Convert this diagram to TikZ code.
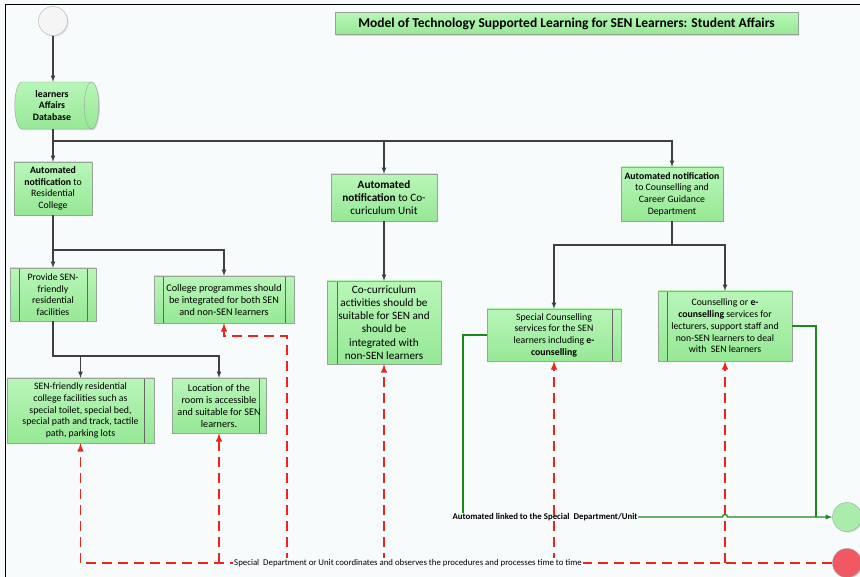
\documentclass[tikz,border=0pt]{standalone}
\usepackage{fontspec}
\setmainfont{Carlito}
\usetikzlibrary{shapes.geometric,shadows}

\definecolor{bgcol}{RGB}{248,251,252}
\definecolor{boxtop}{RGB}{184,246,184}
\definecolor{boxbot}{RGB}{150,232,150}
\definecolor{boxline}{RGB}{150,165,150}
\definecolor{connline}{RGB}{64,64,64}
\definecolor{redline}{RGB}{232,40,30}
\definecolor{greenline}{RGB}{30,135,30}
\definecolor{redfill}{RGB}{240,88,98}
\definecolor{greenfill}{RGB}{170,236,170}

\begin{document}
\begin{tikzpicture}[x=1pt,y=-1pt,>=latex,
  box/.style={draw=boxline,top color=boxtop,bottom color=boxbot,align=center,inner sep=1pt,
    drop shadow={shadow xshift=1.2pt,shadow yshift=-1.2pt,opacity=.3}},
  lbar/.style={path picture={\draw[connline!80,line width=.6pt]
    ([xshift=#1]path picture bounding box.north west) -- ([xshift=#1]path picture bounding box.south west);}},
  rbar/.style={path picture={\draw[connline!80,line width=.6pt]
    ([xshift=-#1]path picture bounding box.north east) -- ([xshift=-#1]path picture bounding box.south east);}},
  bars/.style={path picture={\draw[connline!80,line width=.6pt]
    ([xshift=#1]path picture bounding box.north west) -- ([xshift=#1]path picture bounding box.south west)
    ([xshift=-#1]path picture bounding box.north east) -- ([xshift=-#1]path picture bounding box.south east);}},
  txtS/.style={font=\fontsize{9.8}{11.7}\selectfont},
  txtM/.style={font=\fontsize{10.2}{12}\selectfont},
  txtL/.style={font=\fontsize{11.2}{13.3}\selectfont},
  conn/.style={draw=connline,line width=1.1pt},
  reddash/.style={draw=redline,line width=1.9pt,dash pattern=on 10pt off 6pt},
  greenln/.style={draw=greenline,line width=1.3pt},
  endcirc/.style={circle,draw=gray!70,minimum size=29pt,inner sep=0pt,
    drop shadow={shadow xshift=1pt,shadow yshift=-1pt,opacity=.3}}]
\useasboundingbox[fill=bgcol] (0,0) rectangle (860,577);
\draw[line width=1pt] (5,577) -- (5,5) -- (860,5);

% title and start
\node[box,lbar=.4pt,minimum width=463pt,minimum height=22pt,
  font=\bfseries\fontsize{13.5}{15}\selectfont] (title) at (566.5,23.5)
  {Model of Technology Supported Learning for SEN Learners: Student Affairs};
\node[circle,draw=gray!60,fill=gray!8,minimum size=29pt,inner sep=0pt,
  drop shadow={shadow xshift=1pt,shadow yshift=-1pt,opacity=.25}] (start) at (53,21) {};
\node[box,cylinder,shape border rotate=0,aspect=.45,minimum width=47pt,minimum height=84pt,
  font=\bfseries\fontsize{9.8}{11.5}\selectfont] (db) at (52,105.5) {learners\\Affairs\\Database};

% notifications
\node[box,txtS,minimum width=78pt,minimum height=53pt] (n1) at (53,188.5)
  {\textbf{Automated}\\\textbf{notification} to\\Residential\\College};
\node[box,txtL,minimum width=106pt,minimum height=47pt] (n2) at (384,197.5)
  {\textbf{Automated}\\\textbf{notification} to Co-\\curiculum Unit};
\node[box,txtS,minimum width=102pt,minimum height=54pt] (n3) at (672,194)
  {\textbf{Automated notification}\\to Counselling and\\Career Guidance\\Department};

% residential college
\node[box,txtS,bars=9pt,minimum width=86pt,minimum height=53pt] (prov) at (53,294.5)
  {Provide SEN-\\friendly\\residential\\facilities};
\node[box,txtM,bars=9pt,minimum width=140pt,minimum height=47pt] (colp) at (224,299.5)
  {College programmes should\\be integrated for both SEN\\and non-SEN learners};
\node[box,txtS,rbar=10pt,minimum width=147pt,minimum height=65pt] (senf) at (80.5,410.5)
  {SEN-friendly residential\\college facilities such as\\special toilet, special bed,\\special path and track, tactile\\path, parking lots};
\node[box,txtM,rbar=7pt,minimum width=94pt,minimum height=55pt] (loc) at (219,405.5)
  {Location of the\\room is accessible\\and suitable for SEN\\learners.};

% co-curriculum and counselling
\node[box,txtL,lbar=10pt,minimum width=114pt,minimum height=83pt] (cocu) at (384,322.5)
  {Co-curriculum\\activities should be\\suitable for SEN and\\should be\\integrated with\\non-SEN learners};
\node[box,txtS,rbar=9pt,minimum width=134pt,minimum height=52pt] (spc) at (554,335)
  {Special Counselling\\services for the SEN\\learners including \textbf{e-}\\\textbf{counselling}};
\node[box,txtS,lbar=9pt,minimum width=134pt,minimum height=70pt] (cnse) at (725,326)
  {Counselling or \textbf{e-}\\\textbf{counselling} services for\\lecturers, support staff and\\non-SEN learners to deal\\with\ \ SEN learners};

% end points
\node[endcirc,fill=greenfill] (greenc) at (847,517) {};
\node[endcirc,fill=redfill] (redc) at (847,563) {};

\coordinate (brA) at (0,141);
\coordinate (brB) at (0,250);
\coordinate (brC) at (0,356);
\coordinate (brD) at (0,245);

% flow
\draw[conn,->] (start) -- (start |- db.north);
\draw[conn,->] (start |- db.south) -- (n1);
\draw[conn,->] (start |- brA) -| (n2.north);
\draw[conn,->] (start |- brA) -| (n3.north);
\draw[conn,->] (n1) -- (prov);
\draw[conn,->] (n1.south |- brB) -| (colp.north);
\draw[conn,->] (n2) -- (cocu);
\draw[conn,->] (prov.south) -- (prov.south |- brC) -| (senf.north);
\draw[conn,->] (prov.south |- brC) -| (loc.north);
\draw[conn] (n3.south) -- (n3.south |- brD);
\draw[conn,->] (n3.south |- brD) -| (spc.north);
\draw[conn,->] (n3.south |- brD) -| (cnse.north);

% special department
\coordinate (cpturn) at (287,336);
\draw[reddash,->] (redc.west) -| (senf.south);
\draw[reddash,->] (redc -| loc.south) -- (loc.south);
\draw[reddash,->] (redc -| cpturn) -- (cpturn) -| (colp.south);
\draw[reddash,->] (redc -| cocu.south) -- (cocu.south);
\draw[reddash,->] (redc -| spc.south) -- (spc.south);
\draw[reddash,->] (redc -| cnse.south) -- (cnse.south);
\node[fill=bgcol,inner sep=1pt,font=\fontsize{8.8}{10}\selectfont] (rlabel) at (408,563)
  {Special\ \ Department or Unit coordinates and observes the procedures and processes time to time};

% automated link
\node[inner sep=.5pt,font=\bfseries\fontsize{8.8}{10}\selectfont] (glabel) at (545,517)
  {Automated linked to the Special\ \ Department/Unit};
\coordinate (gdrop) at (463,0);
\coordinate (gjoin) at (816,517);
\coordinate (hop) at (cnse.south |- glabel);
\draw[greenln] (spc.west) -| (gdrop |- glabel.north);
\draw[greenln,->] (glabel.east) -- ([xshift=-2.5pt]hop) arc[start angle=180,delta angle=180,radius=2.5] -- (greenc.west);
\draw[greenln] (cnse.east) -| (gjoin);
\end{tikzpicture}
\end{document}
